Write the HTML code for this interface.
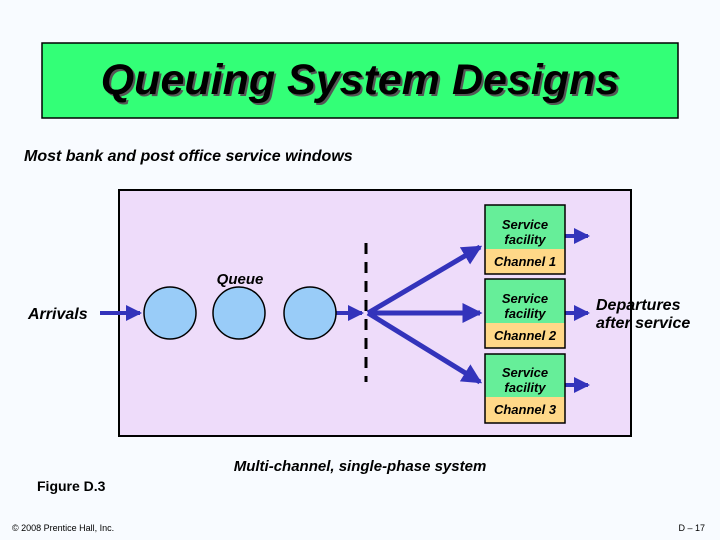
<!DOCTYPE html>
<html><head><meta charset="utf-8"><style>
html,body{margin:0;padding:0;background:#f8fbff;}
svg{display:block;font-family:"Liberation Sans",Arial,sans-serif;}
</style></head><body>
<svg width="720" height="540" viewBox="0 0 720 540">
<defs>
<marker id="ah" markerWidth="4" markerHeight="4" refX="3.5" refY="2" orient="auto" markerUnits="strokeWidth"><path d="M0,0 L4,2 L0,4 z" fill="#3333bb"/></marker>
</defs>
<rect width="720" height="540" fill="#f8fbff"/>
<rect x="42" y="43" width="636" height="75" fill="#33ff77" stroke="#000" stroke-width="1.5"/>
<text x="362" y="96" text-anchor="middle" font-size="43" font-weight="bold" font-style="italic" fill="#555">Queuing System Designs</text>
<text x="360" y="94" text-anchor="middle" font-size="43" font-weight="bold" font-style="italic" fill="#000">Queuing System Designs</text>
<text x="24" y="161" font-size="16" font-weight="bold" font-style="italic">Most bank and post office service windows</text>
<rect x="119" y="190" width="512" height="246" fill="#eedcfa" stroke="#000" stroke-width="2"/>
<line x1="100" y1="313" x2="140" y2="313" stroke="#3333bb" stroke-width="4" marker-end="url(#ah)"/>
<line x1="336" y1="313" x2="362" y2="313" stroke="#3333bb" stroke-width="4" marker-end="url(#ah)"/>
<g fill="#99ccf8" stroke="#000" stroke-width="1.5">
<circle cx="170" cy="313" r="26"/><circle cx="239" cy="313" r="26"/><circle cx="310" cy="313" r="26"/>
</g>
<text x="240" y="284" text-anchor="middle" font-size="15" font-weight="bold" font-style="italic">Queue</text>
<line x1="366" y1="243" x2="366" y2="382" stroke="#000" stroke-width="3" stroke-dasharray="11,8"/>
<g stroke="#3333bb" stroke-width="5">
<line x1="368" y1="313" x2="480" y2="247" marker-end="url(#ah)"/>
<line x1="368" y1="313" x2="480" y2="313" marker-end="url(#ah)"/>
<line x1="368" y1="313" x2="480" y2="382" marker-end="url(#ah)"/>
</g>
<g stroke="#3333bb" stroke-width="4">
<line x1="565" y1="236" x2="588" y2="236" marker-end="url(#ah)"/>
<line x1="565" y1="313" x2="588" y2="313" marker-end="url(#ah)"/>
<line x1="565" y1="385" x2="588" y2="385" marker-end="url(#ah)"/>
</g>
<g font-size="13" font-style="italic" font-weight="bold" text-anchor="middle">
<rect x="485" y="205" width="80" height="44" fill="#66ee99"/><rect x="485" y="249" width="80" height="25" fill="#ffd888"/><rect x="485" y="205" width="80" height="69" fill="none" stroke="#000" stroke-width="1.5"/>
<text x="525" y="229">Service</text><text x="525" y="244">facility</text><text x="525" y="266">Channel 1</text>
<rect x="485" y="279" width="80" height="44" fill="#66ee99"/><rect x="485" y="323" width="80" height="25" fill="#ffd888"/><rect x="485" y="279" width="80" height="69" fill="none" stroke="#000" stroke-width="1.5"/>
<text x="525" y="303">Service</text><text x="525" y="318">facility</text><text x="525" y="340">Channel 2</text>
<rect x="485" y="354" width="80" height="43" fill="#66ee99"/><rect x="485" y="397" width="80" height="26" fill="#ffd888"/><rect x="485" y="354" width="80" height="69" fill="none" stroke="#000" stroke-width="1.5"/>
<text x="525" y="377">Service</text><text x="525" y="392">facility</text><text x="525" y="414">Channel 3</text>
</g>
<text x="28" y="319" font-size="16" font-weight="bold" font-style="italic">Arrivals</text>
<text x="596" y="310" font-size="16" font-weight="bold" font-style="italic">Departures</text>
<text x="596" y="328" font-size="16" font-weight="bold" font-style="italic">after service</text>
<text x="360" y="471" text-anchor="middle" font-size="15" font-weight="bold" font-style="italic">Multi-channel, single-phase system</text>
<text x="37" y="491" font-size="14" font-weight="bold">Figure D.3</text>
<text x="12" y="531" font-size="9">© 2008 Prentice Hall, Inc.</text>
<text x="705" y="531" font-size="9" text-anchor="end">D – 17</text>
</svg>
</body></html>
